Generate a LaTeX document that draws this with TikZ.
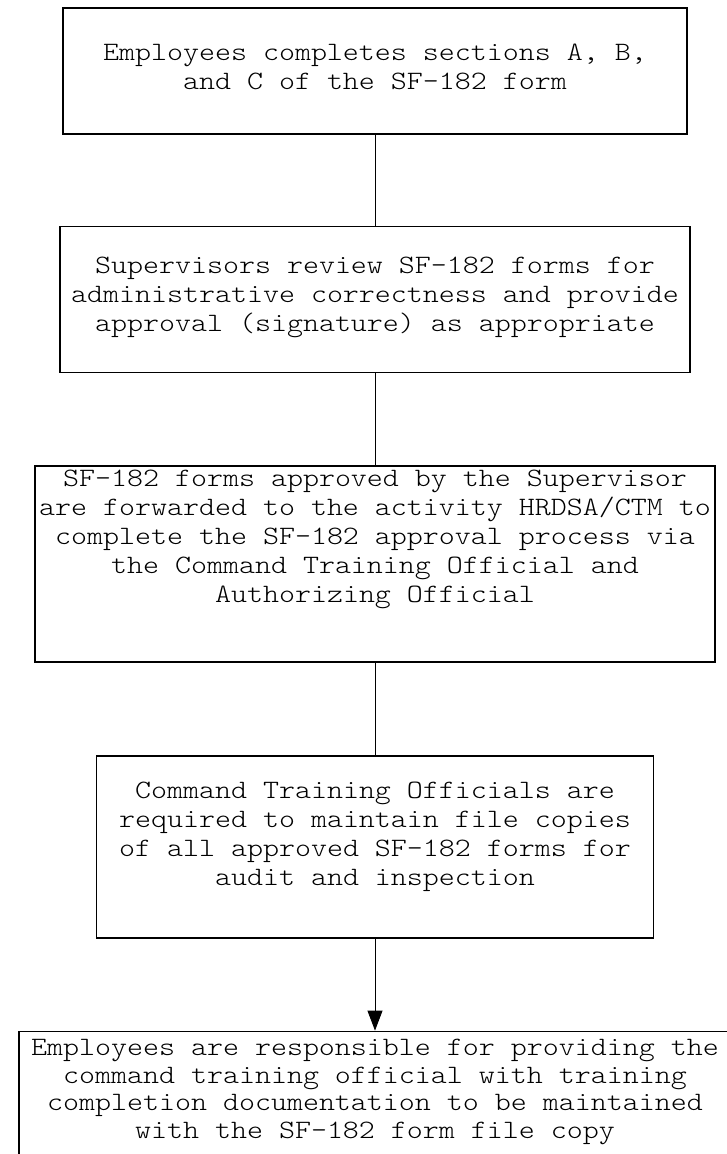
\documentclass[tikz,border=0pt]{standalone}
\usepackage{fontspec}
\setmonofont[FakeStretch=1.15]{Latin Modern Mono Light}
\usetikzlibrary{positioning,arrows.meta}

% box text: height, width, top gap, lines
\newcommand{\steptext}[4]{\parbox[c][#1][t]{#2}{\vspace*{#3}\centering #4}}

\begin{document}
\begin{tikzpicture}[x=1pt,y=1pt,node distance=92pt,>={Triangle[width=15pt,length=20pt]}]
    \tikzstyle{stepbox}=[draw,line width=1.6pt,inner sep=0pt,font=\ttfamily\fontsize{26.5}{29}\selectfont];
    \tikzstyle{link}=[draw,line width=0.9pt];

    \useasboundingbox (0,0) rectangle (727,-1154);
    \clip (0,0) rectangle (727,-1154);

    \node[stepbox] (s1) at (375,-71) {\steptext{126pt}{624pt}{36pt}{Employees completes sections A, B,\\ and C of the SF-182 form}};
    \node[stepbox] (s2) [below=91pt of s1] {\steptext{146pt}{630pt}{30pt}{Supervisors review SF-182 forms for\\ administrative correctness and provide\\ approval (signature) as appropriate}};
    \node[stepbox] (s3) [below=of s2] {\steptext{196pt}{680pt}{4pt}{SF-182 forms approved by the Supervisor\\ are forwarded to the activity HRDSA/CTM to\\ complete the SF-182 approval process via\\ the Command Training Official and\\ Authorizing Official}};
    \node[stepbox] (s4) [below=of s3] {\steptext{182pt}{557pt}{26pt}{Command Training Officials are\\ required to maintain file copies\\ of all approved SF-182 forms for\\ audit and inspection}};
    \node[stepbox] (s5) [below=of s4] {\steptext{180pt}{712pt}{8pt}{\fontsize{26.5}{27.5}\selectfont Employees are responsible for providing the\\ command training official with training\\ completion documentation to be maintained\\ with the SF-182 form file copy}};

    \draw[link] (s1) -- (s2);
    \draw[link] (s2) -- (s3);
    \draw[link] (s3) -- (s4);
    \draw[link,->] (s4) -- (s5);

\end{tikzpicture}
\end{document}
